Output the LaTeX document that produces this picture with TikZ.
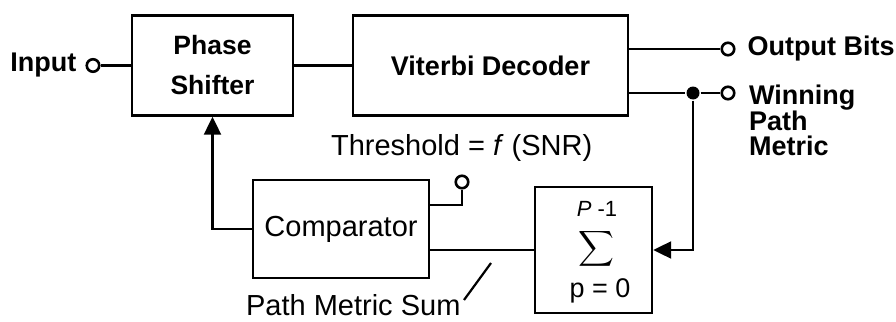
\documentclass[tikz,border=0pt]{standalone}
\usepackage{exscale}
\usepackage{fontspec}
\setmainfont{Liberation Sans}
\usetikzlibrary{arrows.meta,positioning}

\begin{document}
\begin{tikzpicture}[
    x=1pt, y=-1pt,
    line width=2.2pt,
    block/.style={draw, line width=2.4pt, align=center, inner sep=0pt},
    lbl/.style={inner sep=0pt, font=\fontsize{29}{29}\selectfont},
    blbl/.style={inner sep=0pt, font=\fontsize{27}{27}\selectfont\bfseries},
    term/.style={circle, draw, line width=2.6pt, fill=white, inner sep=0pt, minimum size=12.5pt},
    dot/.style={circle, fill, inner sep=0pt, minimum size=13pt},
    arr/.style={-{Triangle[length=18pt, width=17pt]}}
]
\useasboundingbox (0,0) rectangle (896,321);
% blocks
\node[block, minimum width=161pt, minimum height=100pt, font=\fontsize{26.5}{40}\selectfont\bfseries] (ps) at (212.5,65.5) {Phase\\Shifter};
\node[block, minimum width=275pt, minimum height=100pt, font=\fontsize{27}{27}\selectfont\bfseries] (vd) at (490.5,65.5) {Viterbi Decoder};
\node[block, minimum width=176pt, minimum height=98pt, font=\fontsize{29}{29}\selectfont] (cmp) at (341,229) {Comparator};
\node[block, minimum width=117pt, minimum height=126pt] (sum) at (593.5,250) {};
\node[lbl, anchor=base, font=\fontsize{22}{22}\selectfont] (sumtop) at (597,216) {\textit{P} -1};
\node[lbl] (sigma) at (596,248.5) {$\displaystyle\sum$};
\node[lbl, anchor=base, font=\fontsize{27}{27}\selectfont] (sumbot) at (600,297) {p = 0};
% terminals
\node[term] (in) at (93,65.5) {};
\node[blbl, left=8pt of in] (inlbl) {Input};
\node[term] (out) at (728,49) {};
\node[blbl, right=11pt of out] (outlbl) {Output Bits};
\node[term] (win) at (728,93) {};
\node[dot] (tap) at (693,93) {};
\node[blbl, anchor=north west, align=left, font=\fontsize{27}{25}\selectfont\bfseries] (winlbl) at (748,84) {Winning\\Path\\Metric};
\node[term] (thr) at (462,182) {};
\node[lbl, anchor=base west] (thrlbl) at (330,155) {Threshold = \textit{f} (SNR)};
\node[lbl, anchor=base west] (pms) at (245,315) {Path Metric Sum};
\coordinate (pmsfoot) at (464,300);
\coordinate (pmstip) at (491,263);
% connectors
\draw (in) -- (ps);
\draw (ps) -- (vd);
\draw (vd.east |- out) -- (out);
\draw (vd.east |- win) -- (tap) -- (win);
\draw[arr] (tap) |- (sum);
\draw[arr] (cmp) -| (ps);
\draw ([yshift=-26pt]cmp.north east) -| (thr);
\draw (cmp.east |- sum) -- (sum);
\draw (pmsfoot) -- (pmstip);
\end{tikzpicture}
\end{document}
